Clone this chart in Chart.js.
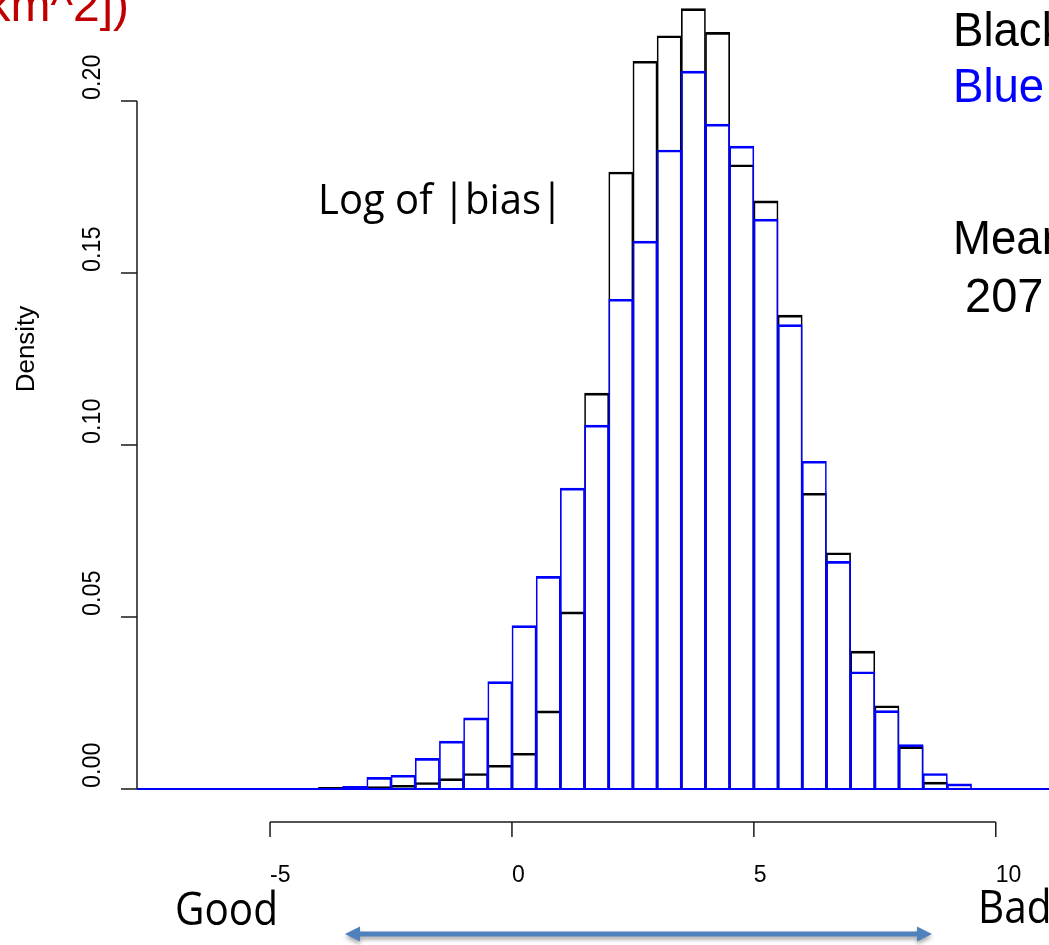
<!DOCTYPE html>
<html>
<head>
<meta charset="utf-8">
<script src="https://cdn.jsdelivr.net/npm/chart.js@4.4.1/dist/chart.umd.min.js"></script>
<style>
  html, body { margin: 0; padding: 0; background: #fff; }
  canvas { display: block; }
</style>
</head>
<body>
<canvas id="hist" width="1049" height="945"></canvas>
<script>
// left edge of each histogram bin (bins are 0.5 wide)
const binLeft = [-4.0, -3.5, -3.0, -2.5, -2.0, -1.5, -1.0, -0.5, 0.0, 0.5, 1.0, 1.5, 2.0, 2.5,
                 3.0, 3.5, 4.0, 4.5, 5.0, 5.5, 6.0, 6.5, 7.0, 7.5, 8.0, 8.5, 9.0]
const binWidth = 0.5

const blackDensity = [0.0005, 0.0006, 0.0007, 0.0011, 0.0019, 0.0030, 0.0045, 0.0069, 0.0104, 0.0227,
                      0.0515, 0.1151, 0.1794, 0.2116, 0.2190, 0.2269, 0.2200, 0.1815, 0.1710, 0.1378,
                      0.0860, 0.0687, 0.0401, 0.0242, 0.0123, 0.0020, 0.0003]
const blueDensity  = [0.0002, 0.0008, 0.0034, 0.0040, 0.0089, 0.0139, 0.0207, 0.0312, 0.0475, 0.0618,
                      0.0875, 0.1058, 0.1424, 0.1593, 0.1858, 0.2087, 0.1933, 0.1869, 0.1657, 0.1350,
                      0.0953, 0.0662, 0.0341, 0.0228, 0.0129, 0.0045, 0.0015]

const xTicks = [-5, 0, 5, 10]
const yTicks = [0, 0.05, 0.10, 0.15, 0.20]
const yTickLabels = ['0.00', '0.05', '0.10', '0.15', '0.20']
const xRange = [-7.75, 11.1]
const yRange = [-0.01, 0.2294]

const toBars = (vals) => binLeft.map((b, i) => ({ x: b + binWidth / 2, y: vals[i] }))

const SANS = '"Liberation Sans", Arial, sans-serif'
const SLIDE = '"Open Sans", "Noto Sans", sans-serif'

// text squeezed/stretched horizontally to a given width (slide text is Calibri-like)
function fitText(ctx, text, x, y, font, width, color) {
  ctx.save()
  ctx.font = font
  ctx.fillStyle = color || '#000'
  const sx = width / ctx.measureText(text).width
  ctx.translate(x, y)
  ctx.scale(sx, 1)
  ctx.fillText(text, 0, 0)
  ctx.restore()
  return sx
}

function scaledText(ctx, text, x, y, sx) {
  ctx.save()
  ctx.translate(x, y)
  ctx.scale(sx, 1)
  ctx.fillText(text, 0, 0)
  ctx.restore()
}

function drawArrow(ctx, x1, x2, yy) {
  const hl = 15, hw = 7.5, t = 2.5
  ctx.save()
  ctx.shadowColor = 'rgba(0,0,0,0.35)'
  ctx.shadowBlur = 4
  ctx.shadowOffsetY = 3
  ctx.fillStyle = '#4f81bd'
  ctx.beginPath()
  ctx.moveTo(x1, yy)
  ctx.lineTo(x1 + hl, yy - hw)
  ctx.lineTo(x1 + hl, yy - t)
  ctx.lineTo(x2 - hl, yy - t)
  ctx.lineTo(x2 - hl, yy - hw)
  ctx.lineTo(x2, yy)
  ctx.lineTo(x2 - hl, yy + hw)
  ctx.lineTo(x2 - hl, yy + t)
  ctx.lineTo(x1 + hl, yy + t)
  ctx.lineTo(x1 + hl, yy + hw)
  ctx.closePath()
  ctx.fill()
  ctx.restore()
}

// R-style axes: line only spans first..last tick, labels start at the tick
const rAxes = {
  id: 'rAxes',
  afterDraw(chart) {
    const { ctx, chartArea } = chart
    const x = chart.scales.x
    const y = chart.scales.y
    ctx.save()
    ctx.strokeStyle = '#1a1a1a'
    ctx.lineWidth = 1.5
    ctx.fillStyle = '#000'

    // y axis
    const ax = chartArea.left
    ctx.beginPath()
    ctx.moveTo(ax, y.getPixelForValue(yTicks[0]))
    ctx.lineTo(ax, y.getPixelForValue(yTicks[yTicks.length - 1]))
    yTicks.forEach(v => {
      const py = y.getPixelForValue(v)
      ctx.moveTo(ax, py)
      ctx.lineTo(ax - 16, py)
    })
    ctx.stroke()
    ctx.font = '26px ' + SANS
    ctx.textAlign = 'left'
    ctx.textBaseline = 'alphabetic'
    yTicks.forEach((v, i) => {
      ctx.save()
      ctx.translate(100, y.getPixelForValue(v) - 1)
      ctx.rotate(-Math.PI / 2)
      ctx.scale(0.9, 1)
      ctx.fillText(yTickLabels[i], 0, 0)
      ctx.restore()
    })

    // y title
    ctx.save()
    ctx.font = '26px ' + SANS
    ctx.textAlign = 'center'
    ctx.translate(34, 349)
    ctx.rotate(-Math.PI / 2)
    ctx.fillText('Density', 0, 0)
    ctx.restore()

    // x axis
    const ay = chartArea.bottom - 1.5
    ctx.beginPath()
    ctx.moveTo(x.getPixelForValue(xTicks[0]), ay)
    ctx.lineTo(x.getPixelForValue(xTicks[xTicks.length - 1]), ay)
    xTicks.forEach(v => {
      const px = x.getPixelForValue(v)
      ctx.moveTo(px, ay)
      ctx.lineTo(px, ay + 15)
    })
    ctx.stroke()
    ctx.font = '23px ' + SANS
    xTicks.forEach(v => {
      ctx.fillText(String(v), x.getPixelForValue(v), 882)
    })

    // slide annotations
    const sx = fitText(ctx, 'Good', 175, 925, '45px ' + SLIDE, 103)
    ctx.font = '45px ' + SLIDE
    scaledText(ctx, 'Bad', 978, 923, sx)
    fitText(ctx, 'Log of |bias|', 318, 214, '42px ' + SLIDE, 245)
    drawArrow(ctx, 345, 932, 934)

    ctx.font = '49px ' + SANS
    ctx.textAlign = 'left'
    ctx.fillStyle = '#000'
    scaledText(ctx, 'Black', 953, 46, 0.93)
    scaledText(ctx, 'Mean', 953, 254, 0.93)
    scaledText(ctx, '207', 965, 312, 0.96)
    ctx.fillStyle = '#0000ff'
    scaledText(ctx, 'Blue', 953, 102, 0.93)

    ctx.fillStyle = '#c00000'
    ctx.font = '48px ' + SANS
    ctx.textAlign = 'right'
    ctx.fillText('km^2])', 129, 21)
    ctx.restore()
  }
}

new Chart(document.getElementById('hist'), {
  type: 'bar',
  data: {
    datasets: [
      {
        type: 'line',
        label: 'baseline',
        data: [{ x: xRange[0], y: 0 }, { x: xRange[1], y: 0 }],
        borderColor: '#0000ff',
        borderWidth: 2,
        pointRadius: 0,
        order: 0,
      },
      {
        label: 'Blue',
        data: toBars(blueDensity),
        borderColor: '#0000ff',
        order: 1,
      },
      {
        label: 'Black',
        data: toBars(blackDensity),
        borderColor: '#000000',
        order: 2,
      },
    ]
  },
  options: {
    responsive: false,
    animation: false,
    layout: { padding: { left: 137, right: 0, top: 0, bottom: 121.6 } },
    datasets: {
      bar: {
        grouped: false,
        barPercentage: 1,
        categoryPercentage: 1,
        backgroundColor: 'rgba(0,0,0,0)',
        borderWidth: { top: 2, left: 1, right: 1, bottom: 0 },
        borderSkipped: false,
      }
    },
    scales: {
      x: { type: 'linear', min: xRange[0], max: xRange[1], offset: false, display: false },
      y: { min: yRange[0], max: yRange[1], display: false }
    },
    plugins: {
      legend: { display: false },
      tooltip: { enabled: false }
    }
  },
  plugins: [rAxes]
})
</script>
</body>
</html>
